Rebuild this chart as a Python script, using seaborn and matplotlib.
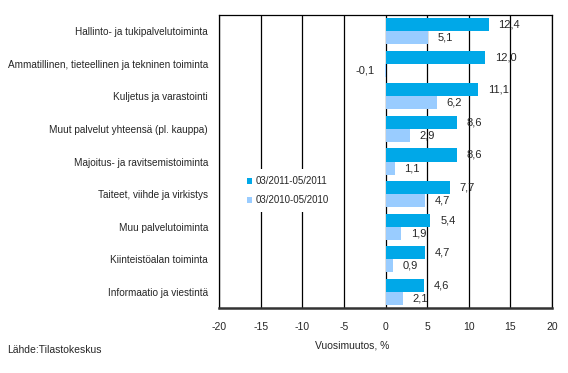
import matplotlib.pyplot as plt
import pandas as pd
import seaborn as sns
from matplotlib.patches import Patch

categories = [
    "Hallinto- ja tukipalvelutoiminta",
    "Ammatillinen, tieteellinen ja tekninen toiminta",
    "Kuljetus ja varastointi",
    "Muut palvelut yhteensä (pl. kauppa)",
    "Majoitus- ja ravitsemistoiminta",
    "Taiteet, viihde ja virkistys",
    "Muu palvelutoiminta",
    "Kiinteistöalan toiminta",
    "Informaatio ja viestintä",
]
periods = ["03/2011-05/2011", "03/2010-05/2010"]
values_2011 = [12.4, 12.0, 11.1, 8.6, 8.6, 7.7, 5.4, 4.7, 4.6]
values_2010 = [5.1, -0.1, 6.2, 2.9, 1.1, 4.7, 1.9, 0.9, 2.1]
colors = ["#00A8E8", "#99CCFF"]

df = pd.DataFrame({
    "toimiala": categories * 2,
    "muutos": values_2011 + values_2010,
    "jakso": [periods[0]] * len(categories) + [periods[1]] * len(categories),
})

sns.set_style("white")
plt.rcParams["font.family"] = ["Liberation Sans", "DejaVu Sans"]
plt.rcParams["font.size"] = 7.2
plt.rcParams["axes.unicode_minus"] = False

fig = plt.figure(figsize=(5.68, 3.73), dpi=100)
ax = fig.add_axes([219 / 568, 1 - 308 / 373, 333 / 568, 293 / 373])

sns.barplot(data=df, x="muutos", y="toimiala", hue="jakso", orient="h",
            palette=colors, saturation=1, width=0.8, linewidth=0,
            ax=ax, legend=False, zorder=3)

for cont in ax.containers:
    labels = [f"{b.get_width():.1f}".replace(".", ",") for b in cont]
    ax.bar_label(cont, labels=labels, padding=7, fontsize=8, zorder=4)

ax.set_xlim(-20, 20)
ax.set_xticks(range(-20, 21, 5))
ax.xaxis.grid(True, color="black", linewidth=0.9, zorder=0)
ax.set_axisbelow(True)
ax.tick_params(axis="x", length=4, width=0.8, color="black", direction="out",
               pad=6, labelsize=7.5)
ax.tick_params(axis="y", length=0, pad=8)
ax.set_ylabel("")
ax.set_xlabel("Vuosimuutos, %", fontsize=7.5)
ax.xaxis.set_label_coords(0.40, -0.11)
for side in ["top", "left", "right"]:
    ax.spines[side].set_color("black")
    ax.spines[side].set_linewidth(0.9)
ax.spines["bottom"].set_color("#333333")
ax.spines["bottom"].set_linewidth(1.8)

handles = [Patch(facecolor=c, edgecolor="none") for c in colors]
leg = ax.legend(handles, periods, loc="center left", bbox_to_anchor=(0.048, 0.40),
                frameon=True, fancybox=False, framealpha=1, edgecolor="none",
                facecolor="white", handlelength=0.6, handleheight=0.6,
                handletextpad=0.3, labelspacing=0.95, borderpad=0.7, fontsize=7)
leg.set_zorder(5)

fig.text(7 / 568, 1 - 350 / 373, "Lähde:Tilastokeskus", fontsize=7.5, va="center")

fig.savefig("out.png", dpi=100)
